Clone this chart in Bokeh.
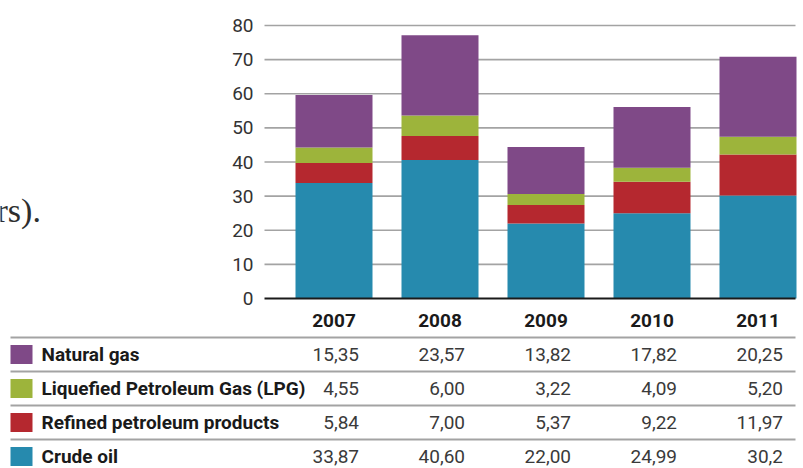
from bokeh.plotting import figure
from bokeh.models import ColumnDataSource, Range1d, FixedTicker, Label
from bokeh.core.properties import value
from bokeh.embed import file_html
from bokeh.resources import INLINE

# ---------------- data ----------------
years = ["2007", "2008", "2009", "2010", "2011"]
series_names = ["Natural gas", "Liquefied Petroleum Gas (LPG)", "Refined petroleum products", "Crude oil"]
# values as printed in the table
natural_gas = ["15,35", "23,57", "13,82", "17,82", "20,25"]
lpg = ["4,55", "6,00", "3,22", "4,09", "5,20"]
refined = ["5,84", "7,00", "5,37", "9,22", "11,97"]
crude_oil = ["33,87", "40,60", "22,00", "24,99", "30,2"]
# bar heights as drawn (2011 natural gas bar is drawn taller than its printed value)
natural_gas_bar = [15.35, 23.57, 13.82, 17.82, 23.5]
y_ticks = [0, 10, 20, 30, 40, 50, 60, 70, 80]

colors = {
    "Natural gas": "#7f4987",
    "Liquefied Petroleum Gas (LPG)": "#9db43b",
    "Refined petroleum products": "#b5282f",
    "Crude oil": "#268aae",
}
table_strings = [natural_gas, lpg, refined, crude_oil]


def num(s):
    return float(s.replace(",", "."))


FONT = "Roboto"
W, H = 803, 468

# layout constants (pixels) -> data coordinates
BAR0, PITCH = 333.5, 106.0          # centre of first bar, bar pitch
BASE, PPU = 298.0, 3.4125           # y pixel of value 0, pixels per unit


def X(px):
    return (px - BAR0) / PITCH


def Y(py):
    return (BASE - py) / PPU


CHART_L, RIGHT = X(264), X(795)

p = figure(width=W, height=H, x_range=Range1d(X(0), X(W)), y_range=Range1d(Y(H), Y(0)),
           output_backend="svg", toolbar_location=None,
           min_border_left=0, min_border_right=0, min_border_top=0, min_border_bottom=0)
p.outline_line_color = None
p.background_fill_color = "white"
p.border_fill_color = "white"
p.grid.visible = False

# horizontal gridlines of the chart
p.segment(x0=[CHART_L] * (len(y_ticks) - 1), x1=[RIGHT] * (len(y_ticks) - 1),
          y0=y_ticks[1:], y1=y_ticks[1:], line_color="#a3a3a3", line_width=1.6)

# stacked bars
xs = list(range(len(years)))
src = ColumnDataSource(dict(
    x=xs,
    crude=[num(v) for v in crude_oil],
    refined=[num(v) for v in refined],
    lpg=[num(v) for v in lpg],
    gas=natural_gas_bar,
))
p.vbar_stack(["crude", "refined", "lpg", "gas"], x="x", width=77 / PITCH, source=src,
             color=[colors["Crude oil"], colors["Refined petroleum products"],
                    colors["Liquefied Petroleum Gas (LPG)"], colors["Natural gas"]],
             line_color=None)

# y axis drawn at the chart's left edge
p.yaxis.fixed_location = CHART_L
p.yaxis.bounds = (0, 80)
p.yaxis.ticker = FixedTicker(ticks=y_ticks)
p.yaxis.axis_line_color = None
p.yaxis.major_tick_line_color = None
p.yaxis.minor_tick_line_color = None
p.yaxis.major_label_standoff = 5
p.yaxis.major_label_text_font = FONT
p.yaxis.major_label_text_font_size = "19px"
p.yaxis.major_label_text_color = "#333333"

# x axis (baseline + year header)
p.xaxis.fixed_location = 0
p.xaxis.bounds = (CHART_L, RIGHT)
p.xaxis.ticker = FixedTicker(ticks=xs)
p.xaxis.major_label_overrides = {i: y for i, y in enumerate(years)}
p.xaxis.axis_line_color = "#1a1a1a"
p.xaxis.axis_line_width = 2
p.xaxis.major_tick_line_color = None
p.xaxis.minor_tick_line_color = None
p.xaxis.major_label_standoff = 9
p.xaxis.major_label_text_font = FONT
p.xaxis.major_label_text_font_style = "bold"
p.xaxis.major_label_text_font_size = "19px"
p.xaxis.major_label_text_color = "#1a1a1a"

# cut-off body text at left
p.add_layout(Label(x=X(-4), y=Y(210), text="rs).",
                   text_font="Liberation Serif", text_font_size="34px",
                   text_color="#2e2e2e", text_baseline="alphabetic"))

# ---------------- table ----------------
rows = list(range(len(series_names)))
ROW0, ROWH = 354.0, 34.0
row_y = [Y(ROW0 + ROWH * r) for r in rows]
rule_y = [Y(ROW0 - ROWH / 2 + ROWH * r) for r in rows]

p.segment(x0=[X(10)] * len(rows), x1=[RIGHT] * len(rows), y0=rule_y, y1=rule_y,
          line_color="#a3a3a3", line_width=2)

p.rect(x=[X(21)] * len(rows), y=row_y, width=22, height=19,
       width_units="screen", height_units="screen",
       fill_color=[colors[n] for n in series_names], line_color=None)

p.text(x=[X(41)] * len(rows), y=row_y, text=series_names,
       text_font=value(FONT), text_font_style="bold", text_font_size="19px",
       text_color="#1a1a1a", text_align="left", text_baseline="middle")

cell_x, cell_y, cell_t = [], [], []
for r, strings in enumerate(table_strings):
    for i, s in enumerate(strings):
        cell_x.append(i + 25 / PITCH)
        cell_y.append(row_y[r])
        cell_t.append(s)
p.text(x=cell_x, y=cell_y, text=cell_t, text_font=value(FONT), text_font_size="19px",
       text_color="#3a3a3a", text_align="right", text_baseline="middle")

open("out.html", "w").write(file_html(p, INLINE))
